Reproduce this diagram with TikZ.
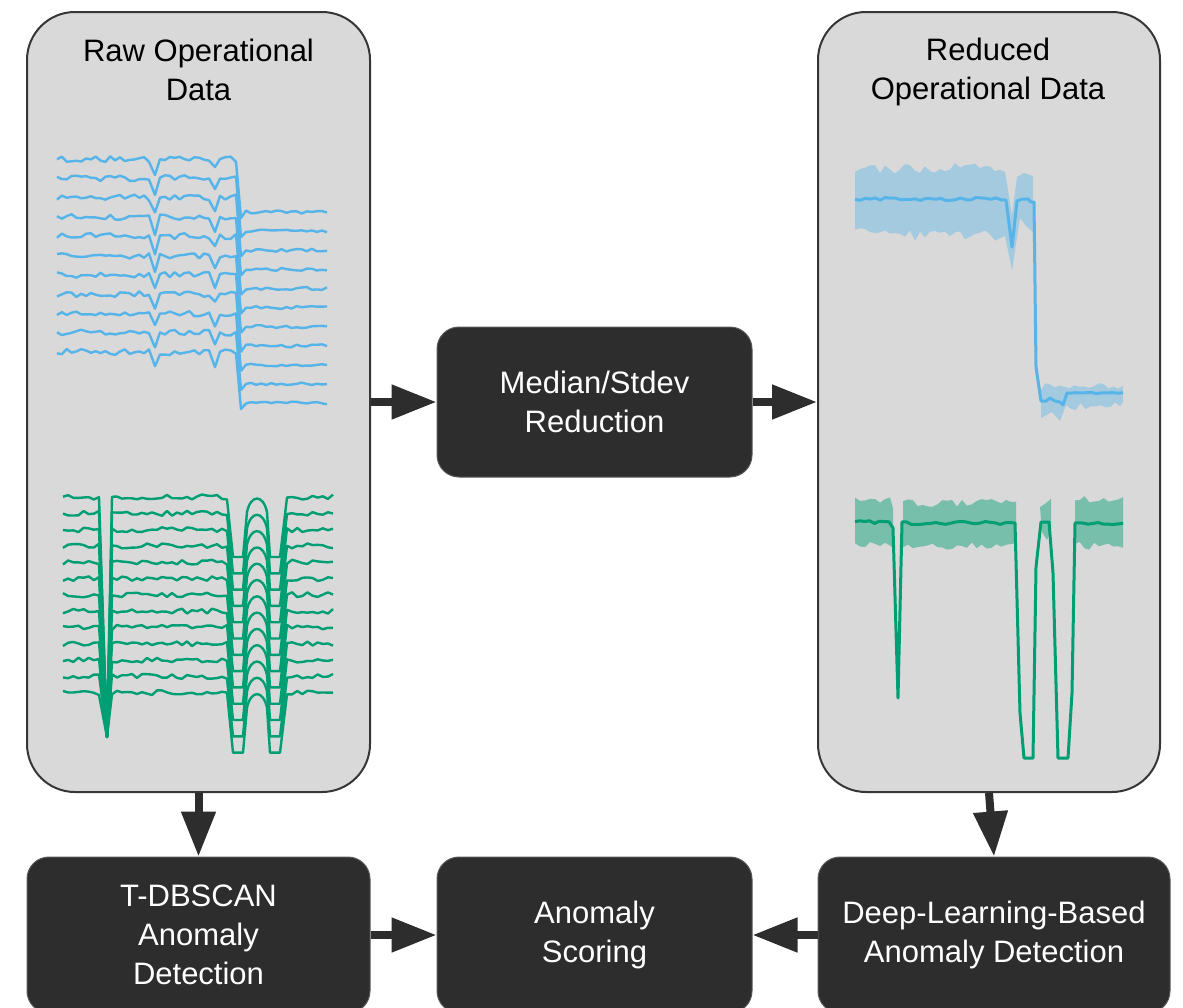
\documentclass[tikz,border=0pt]{standalone}
\usepackage{fontspec}
\setmainfont{Liberation Sans}
\usetikzlibrary{arrows.meta}

\definecolor{panelgray}{HTML}{D9D9D9}
\definecolor{boxdark}{HTML}{2D2D2D}
\definecolor{edgedark}{HTML}{363636}
\definecolor{rawblue}{HTML}{56B4E9}
\definecolor{rawgreen}{HTML}{009E73}

\begin{document}
\begin{tikzpicture}[x=1pt, y=-1pt,
    panel/.style={draw=edgedark, line width=2pt, fill=panelgray, rounded corners=48pt},
    stepbox/.style={draw=gray!70!black, line width=1pt, fill=boxdark, rounded corners=22pt,
        text=white, align=center, font=\fontsize{31pt}{39pt}\selectfont},
    title/.style={align=center, font=\fontsize{31pt}{39pt}\selectfont},
    flow/.style={draw=boxdark, line width=8pt, -{Triangle[length=45pt,width=33pt]}},
    rawline/.style={line width=2.4pt, line join=round},
    midline/.style={line width=3pt, line join=round}]
    \useasboundingbox (0,0) rectangle (1183,1007);
    \pgfmathsetseed{42}

    % panels and steps
    \node[panel, minimum width=343pt, minimum height=780pt] (raw) at (198.5,402) {};
    \node[panel, minimum width=342pt, minimum height=780pt] (reduced) at (989,402) {};
    \node[title] (rawtitle) at (198.5,70) {Raw Operational\\Data};
    \node[title] (redtitle) at (988,72) {Reduced\\Operational Data};
    \node[stepbox, minimum width=315pt, minimum height=150pt] (median) at (594.5,402) {Median/Stdev\\Reduction};
    \node[stepbox, minimum width=343pt, minimum height=156pt] (tdbscan) at (198.5,935) {T-DBSCAN\\Anomaly\\Detection};
    \node[stepbox, minimum width=315pt, minimum height=156pt] (scoring) at (594.5,935) {Anomaly\\Scoring};
    \node[stepbox, minimum width=352pt, minimum height=156pt] (deep) at (994,935) {Deep-Learning-Based\\Anomaly Detection};

    % raw telemetry, blue channels
    \foreach \i in {0,...,10} {
        \pgfmathsetmacro\yleft{159+19.3*\i}
        \pgfmathsetmacro\yright{212+19.1*\i}
        \pgfmathsetmacro\dipa{\yleft+15+4*rand}
        \pgfmathsetmacro\dipb{\yleft+11+5*rand}
        \draw[rawline, rawblue] plot[domain=57:149, samples=20] (\x,{\yleft+3*rand})
            -- (155,\dipa) -- plot[domain=160:209, samples=11] (\x,{\yleft+3*rand})
            -- (215,\dipb) -- plot[domain=220:236, samples=4] (\x,{\yleft+3*rand})
            -- (241,\yright+6) -- plot[domain=246:327, samples=17] (\x,{\yright+1.5*rand});
    }

    % raw telemetry, green channels
    \foreach \i in {0,...,12} {
        \pgfmathsetmacro\ybase{497+16.3*\i}
        \draw[rawline, rawgreen] plot[domain=63:99, samples=8] (\x,{\ybase+2.5*rand})
            -- (107,737) -- plot[domain=112:227, samples=24] (\x,{\ybase+2.5*rand})
            -- (233,\ybase+60) -- (243,\ybase+60) -- (247,\ybase+15)
            .. controls (251,\ybase-3) and (263,\ybase-3) .. (267,\ybase+15)
            -- (270,\ybase+60) -- (280,\ybase+60)
            -- plot[domain=287:333, samples=10] (\x,{\ybase+2.5*rand});
    }

    % reduced blue: stdev band, then median
    \fill[rawblue, opacity=0.4] plot[domain=855:1000, samples=30] (\x,{168+7*rand})
        -- (1005,172) -- (1012,215) -- (1017,177) -- (1024,173) -- (1033,176)
        -- (1033,232) -- (1026,226) -- (1020,218) -- (1012,270) -- (1005,236)
        -- plot[domain=1000:855, samples=30] (\x,{234+7*rand}) -- cycle;
    \fill[rawblue, opacity=0.4] (1041,390) -- plot[domain=1045:1123, samples=17] (\x,{386+3*rand})
        -- (1123,402) -- plot[domain=1120:1066, samples=12] (\x,{406+4*rand})
        -- (1060,421) -- (1052,412) -- (1041,418) -- cycle;
    \draw[midline, rawblue] plot[domain=855:1001, samples=30] (\x,{199+1.5*rand})
        -- (1006,200) -- (1012,247) -- (1017,201) -- (1022,199) -- (1028,199)
        -- (1031,202) -- (1034,202) -- (1036,367) -- (1041,401) -- (1046,401)
        -- (1050,398) -- (1055,401) -- (1060,402) -- (1063,405) -- (1067,393)
        -- plot[domain=1070:1123, samples=11] (\x,{393+0.6*rand});

    % reduced green: stdev band, then median
    \fill[rawgreen, opacity=0.45] plot[domain=855:890, samples=8] (\x,{499+4*rand})
        -- (893,508) -- (893,548) -- plot[domain=890:855, samples=8] (\x,{545+3*rand}) -- cycle;
    \fill[rawgreen, opacity=0.45] plot[domain=903:1016, samples=24] (\x,{503+4*rand})
        -- plot[domain=1016:903, samples=24] (\x,{546+4*rand}) -- cycle;
    \fill[rawgreen, opacity=0.45] (1040,507) -- (1046,503) -- (1051,499) -- (1051,530)
        -- (1047,540) -- (1042,532) -- cycle;
    \fill[rawgreen, opacity=0.45] plot[domain=1075:1123, samples=11] (\x,{500+4*rand})
        -- plot[domain=1123:1075, samples=11] (\x,{546+4*rand}) -- cycle;
    \draw[midline, rawgreen] plot[domain=855:889, samples=8] (\x,{522+1.5*rand})
        -- (893,528) -- (898,698) -- (902,522)
        -- plot[domain=906:1015, samples=23] (\x,{523+1.5*rand})
        -- (1020,713) -- (1024,758) -- (1033,758) -- (1036,567) -- (1041,522)
        -- (1049,522) -- (1053,573) -- (1058,758) -- (1068,758) -- (1072,693)
        -- (1075,523) -- plot[domain=1078:1123, samples=10] (\x,{523+1.5*rand});

    % connectors
    \draw[flow] (raw) -- (median);
    \draw[flow] (median) -- (reduced);
    \draw[flow] (raw.south) -- (tdbscan.north);
    \draw[flow] (reduced.south) -- (deep.north);
    \draw[flow] (tdbscan) -- (scoring);
    \draw[flow] (deep) -- (scoring);
\end{tikzpicture}
\end{document}
